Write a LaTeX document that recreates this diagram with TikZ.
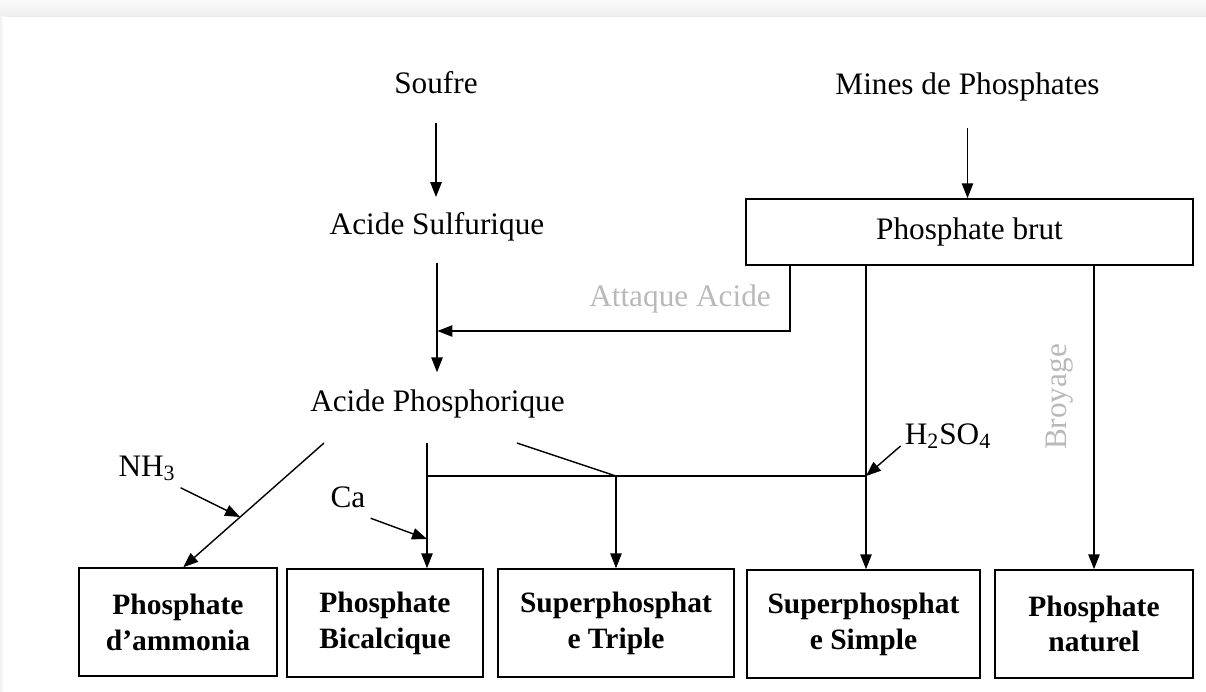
\documentclass[tikz,border=0pt]{standalone}
\usepackage{fontspec}
\setmainfont{Liberation Serif}
\usetikzlibrary{arrows.meta}

\begin{document}
\begin{tikzpicture}[x=0.02cm, y=-0.02cm,
    arr/.style={-{Triangle[length=8.5pt,width=6.5pt]}, line width=0.8pt},
    line/.style={line width=0.8pt},
    txt/.style={font=\fontsize{17.8}{20}\selectfont, inner sep=0pt, text height=11pt, text depth=5pt},
    greytxt/.style={txt, text=gray!55},
    prod/.style={draw, line width=0.9pt, inner sep=0pt, align=center, minimum height=2.16cm,
        font=\fontsize{16.8}{20.4}\selectfont\bfseries}]
    \useasboundingbox (0,0) rectangle (1206,691);

    % Page shadow
    \shade[top color=gray!3, bottom color=gray!14] (0,0) rectangle (1206,16);
    \shade[left color=gray!10, right color=white] (0,16) rectangle (4,691);

    % Raw materials
    \node[txt] (soufre) at (436,88) {Soufre};
    \node[txt] (sulf) at (437,229) {Acide Sulfurique};
    \node[txt] (phos) at (437.5,406) {Acide Phosphorique};
    \node[txt] (mines) at (967.5,89) {Mines de Phosphates};
    \node[draw, line width=0.9pt, inner sep=0pt, minimum width=8.94cm, minimum height=1.32cm,
        font=\fontsize{17.8}{20}\selectfont] (brut) at (969.5,232) {Phosphate brut};

    % Products
    \node[prod, minimum width=3.96cm] (pa) at (178,622) {Phosphate\\d’ammonia};
    \node[prod, minimum width=3.92cm] (pb) at (385,623) {Phosphate\\Bicalcique};
    \node[prod, minimum width=4.72cm] (spt) at (616,623) {Superphosphat\\e Triple};
    \node[prod, minimum width=4.66cm] (sps) at (863.5,624) {Superphosphat\\e Simple};
    \node[prod, minimum width=3.96cm] (pn) at (1094,624) {Phosphate\\naturel};

    % Reagents and operations
    \node[greytxt] (attaque) at (680,301) {Attaque Acide};
    \node[greytxt, rotate=90] (broyage) at (1061,397) {Broyage};
    \node[txt] (nh3) at (147,471) {NH\textsubscript{3}};
    \node[txt] (ca) at (348,502) {Ca};
    \node[txt] (h2so4) at (948,439) {H\textsubscript{2}SO\textsubscript{4}};

    % Junction points
    \coordinate (atk) at (790,331);
    \coordinate (d1) at (324,443);
    \coordinate (nhhit) at (240,517);
    \coordinate (v1) at (427,443);
    \coordinate (cahit) at (427,539);
    \coordinate (s1) at (517,443);
    \coordinate (hl) at (866,476);

    % Sulfuric route
    \draw[arr, shorten <=12pt, shorten >=10pt] (soufre.south) -- (soufre.south |- sulf.north);
    \draw[arr, shorten <=11pt, shorten >=11pt] (sulf.south) -- (sulf.south |- phos.north);
    \draw[arr, shorten <=14pt] (mines.south) -- (mines.south |- brut.north);
    \draw[arr] (brut.south -| atk) |- (phos.north |- atk);

    % Phosphoric acid products
    \draw[arr] (d1) -- ([xshift=3pt]pa.north);
    \draw[arr, shorten <=3pt] (nh3.south east) -- (nhhit);
    \draw[arr] (v1) -- (v1 |- pb.north);
    \draw[arr, shorten <=3pt] (ca.south east) -- (cahit);
    \draw[line] (v1 |- hl) -- (hl);
    \draw[line] (s1) -- (spt.north |- hl);
    \draw[arr] (spt.north |- hl) -- (spt.north);

    % Raw phosphate products
    \draw[arr] (brut.south -| hl) -- (hl |- sps.north);
    \draw[arr, shorten <=3pt] ([yshift=-2pt]h2so4.west) -- (hl);
    \draw[arr] (brut.south -| pn.north) -- (pn.north);
\end{tikzpicture}
\end{document}
